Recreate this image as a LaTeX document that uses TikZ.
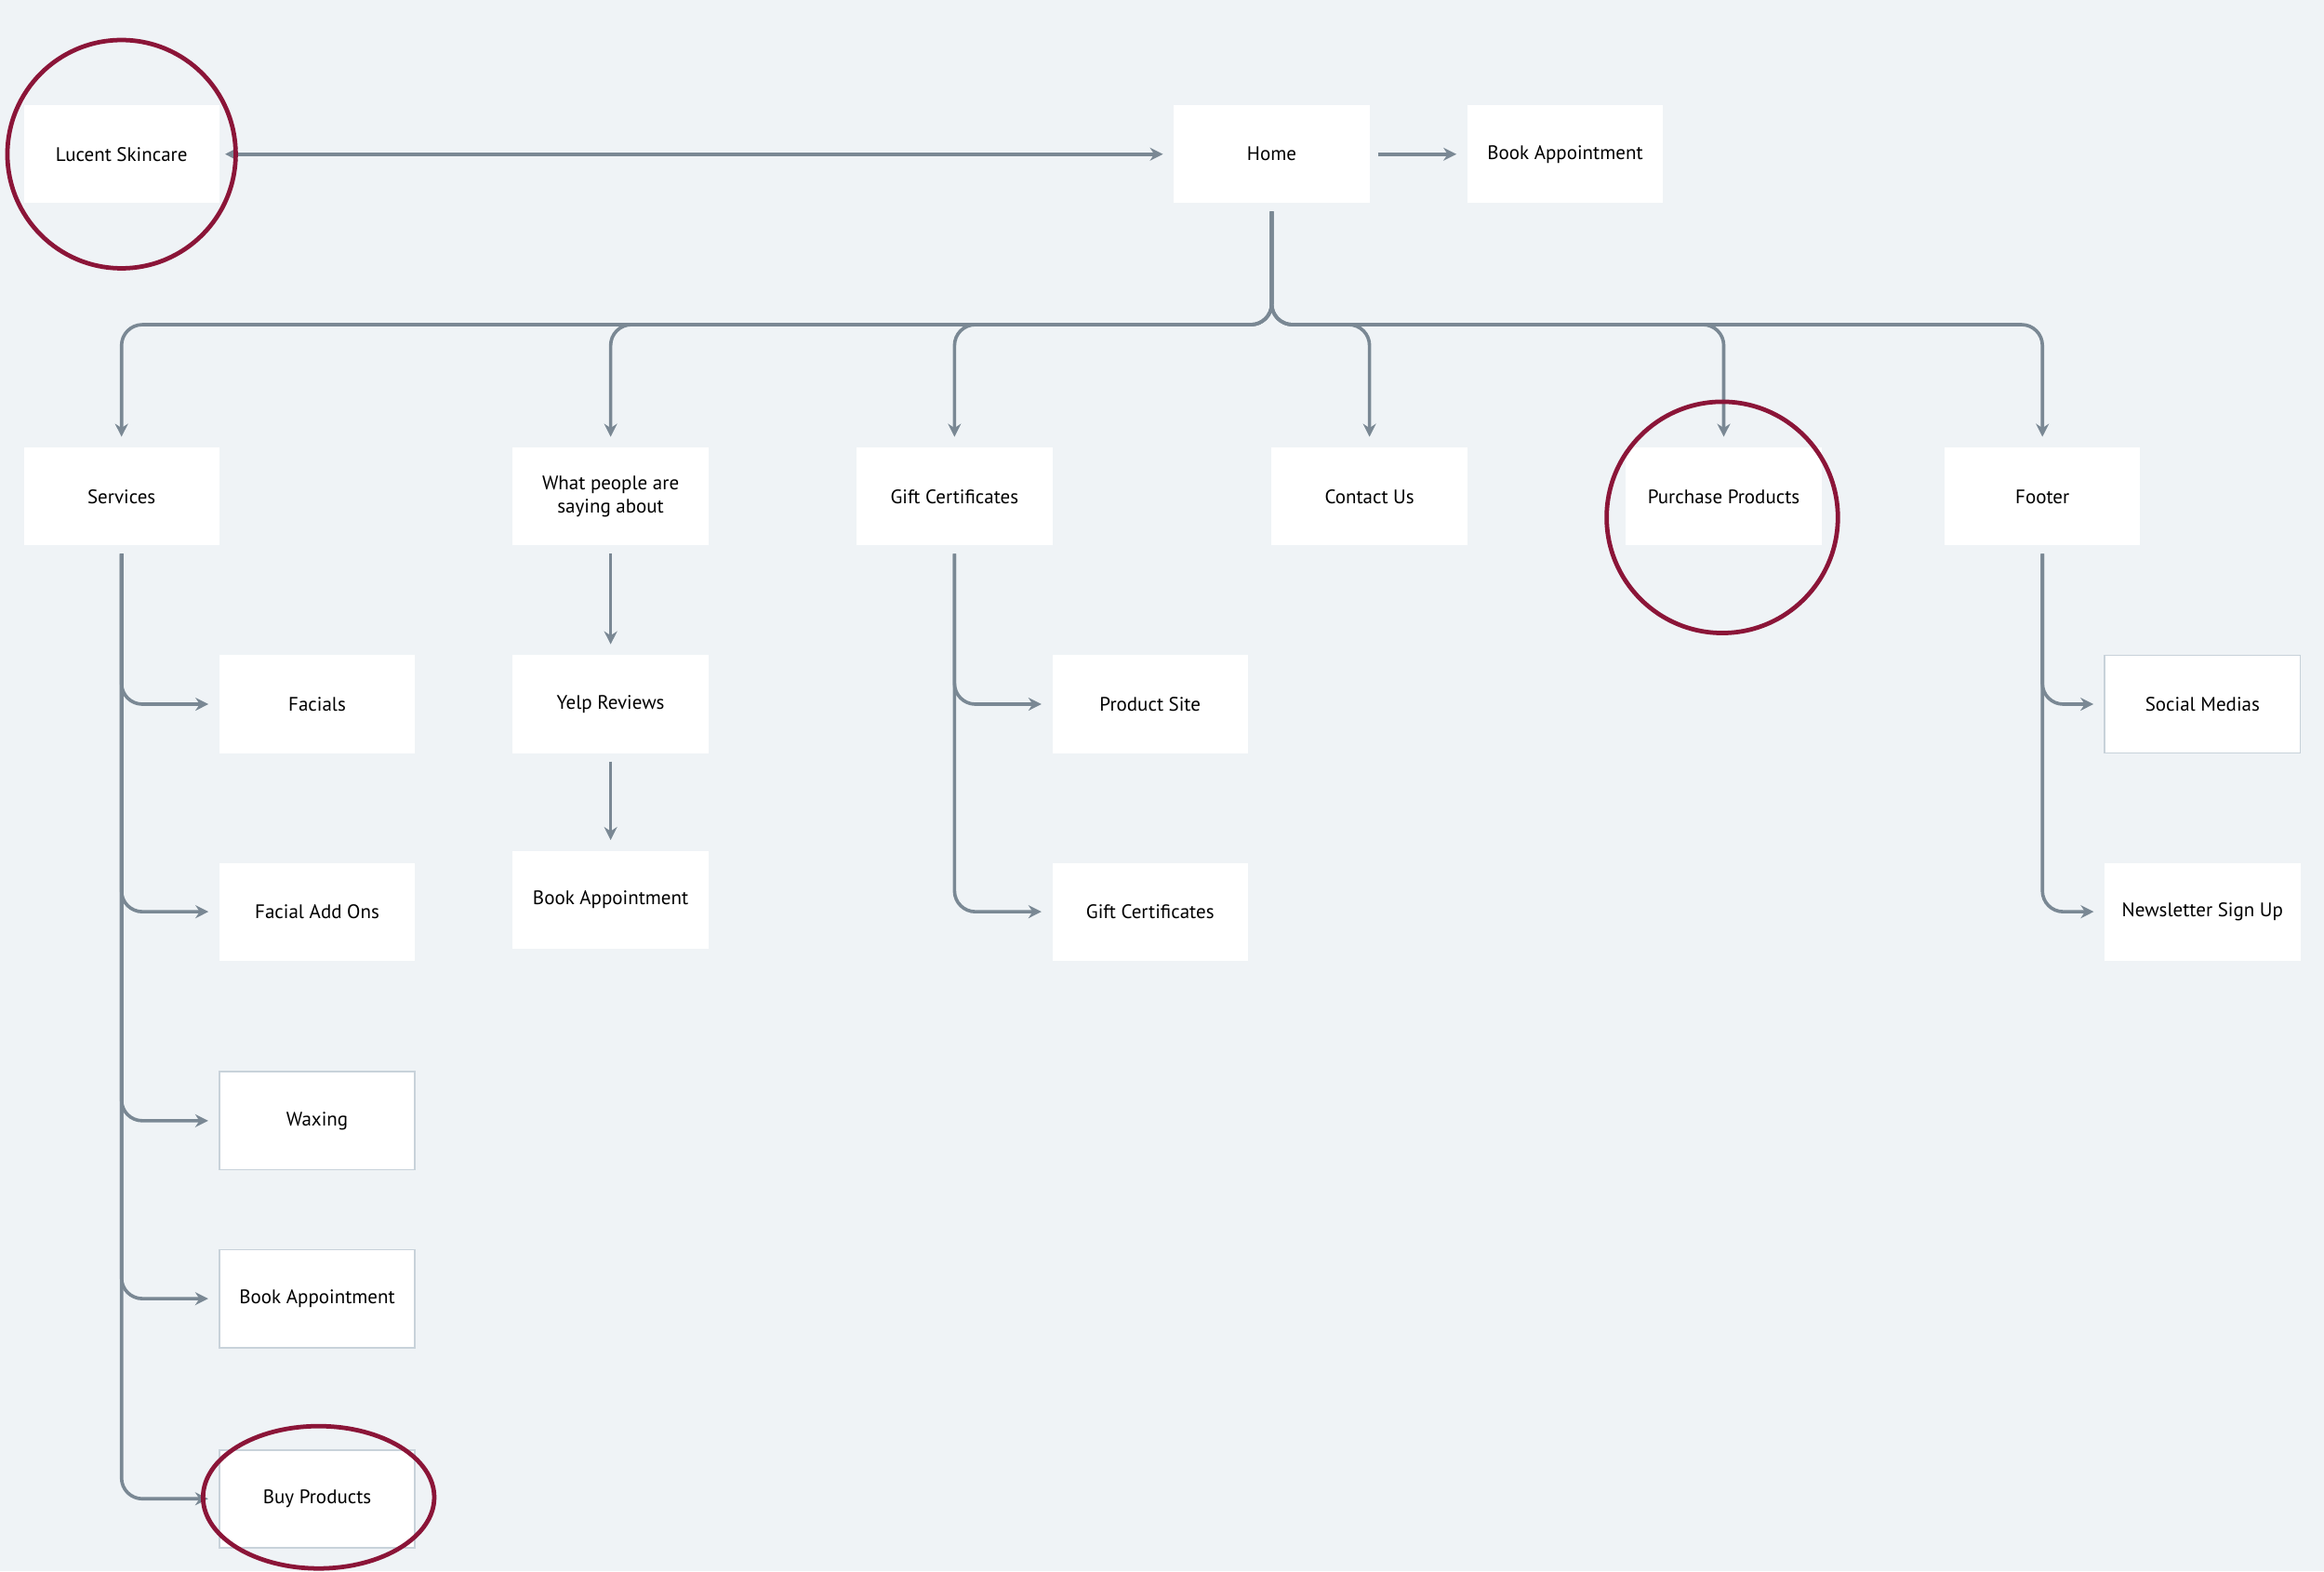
\documentclass[tikz,border=0pt]{standalone}
\usepackage{fontspec}
\setmainfont{PT Sans}
\usetikzlibrary{arrows.meta}
\definecolor{bgc}{HTML}{EFF3F6}
\definecolor{linec}{HTML}{7A8894}
\definecolor{ringc}{HTML}{8B1538}
\definecolor{edgec}{HTML}{C8D2DA}
\begin{document}
\begin{tikzpicture}[
    x=0.02cm, y=-0.02cm,
    page/.style={
      rectangle,
      fill=white,
      align=center,
      minimum height=1.32cm,
      minimum width=2.64cm,
      font=\fontsize{7.5}{9}\selectfont
    },
    framed/.style={draw=edgec, line width=0.6pt},
    conn/.style={draw=linec, line width=1.3pt, rounded corners=8pt,
      -{Stealth[length=5pt,width=5pt]}, shorten >=4pt, shorten <=3pt},
    ring/.style={draw=ringc, line width=1.7pt},
]
\fill[bgc] (0,0) rectangle (1568,1060);
\useasboundingbox (0,0) rectangle (1568,1060);

\node[page] (lucent) at (82,104) {Lucent Skincare};
\node[page] (home) at (858,104) {Home};
\node[page] (bookhome) at (1056,104) {Book Appointment};

\node[page] (services) at (82,335) {Services};
\node[page] (people) at (412,335) {What people are\\saying about};
\node[page] (gift) at (644,335) {Gift Certificates};
\node[page] (contact) at (924,335) {Contact Us};
\node[page] (purchase) at (1163,335) {Purchase Products};
\node[page] (footer) at (1378,335) {Footer};

\node[page] (facials) at (214,475) {Facials};
\node[page] (addons) at (214,615) {Facial Add Ons};
\node[page, framed] (waxing) at (214,756) {Waxing};
\node[page, framed] (bookserv) at (214,876) {Book Appointment};
\node[page, framed] (buy) at (214,1011) {Buy Products};

\node[page] (yelp) at (412,475) {Yelp Reviews};
\node[page] (bookpeople) at (412,607) {Book Appointment};

\node[page] (product) at (776,475) {Product Site};
\node[page] (giftsub) at (776,615) {Gift Certificates};

\node[page, framed] (social) at (1486,475) {Social Medias};
\node[page] (news) at (1486,615) {Newsletter Sign Up};

\coordinate (bus) at (0,219);

% top row
\draw[conn, {Stealth[length=5pt,width=5pt]}-{Stealth[length=5pt,width=5pt]}, shorten <=2pt] (lucent) -- (home);
\draw[conn] (home) -- (bookhome);

% main menu
\foreach \sect in {services,people,gift,contact,purchase,footer}
  \draw[conn] (home.south) -- (home.south |- bus) -| (\sect.north);

% sub pages
\foreach \sub in {facials,addons,waxing,bookserv,buy}
  \draw[conn] (services.south) |- (\sub.west);
\draw[conn] (people) -- (yelp);
\draw[conn] (yelp) -- (bookpeople);
\foreach \sub in {product,giftsub}
  \draw[conn] (gift.south) |- (\sub.west);
\foreach \sub in {social,news}
  \draw[conn] (footer.south) |- (\sub.west);

% highlights
\draw[ring] (82,104) circle (77);
\draw[ring] (1162,349) circle (78);
\draw[ring] (215,1010) ellipse (78 and 48);
\end{tikzpicture}
\end{document}
